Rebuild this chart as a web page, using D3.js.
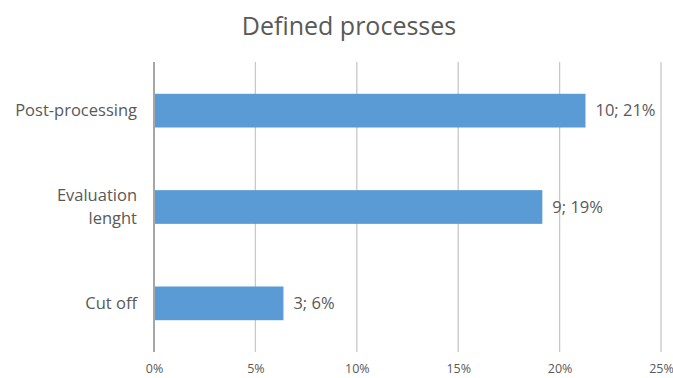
<!DOCTYPE html>
<html>
<head>
<meta charset="utf-8">
<script src="https://cdn.jsdelivr.net/npm/d3@7"></script>
<style>
  html, body { margin: 0; padding: 0; background: #fff; }
  svg { display: block; }
  text { font-family: "Open Sans", "Noto Sans", sans-serif; fill: #595959; }
</style>
</head>
<body>
<svg id="chart" width="673" height="378"></svg>
<script>
// Defined processes: count of occurrences and share of total (47)
const categories = ["Post-processing", "Evaluation lenght", "Cut off"];
const counts = [10, 9, 3];
const shares = [10 / 47, 9 / 47, 3 / 47];
const labels = ["10; 21%", "9; 19%", "3; 6%"];
const tickValues = [0, 0.05, 0.10, 0.15, 0.20, 0.25];

const svg = d3.select("#chart");
const margin = { top: 62, left: 154 };
const plotW = 507, plotH = 290;

const x = d3.scaleLinear().domain([0, 0.25]).range([0, plotW]);
const y = d3.scaleBand().domain(categories).range([0, plotH]).paddingInner(0.65).paddingOuter(0.33);

svg.append("text")
  .attr("x", 349).attr("y", 35)
  .attr("text-anchor", "middle")
  .style("font-size", "25px")
  .text("Defined processes");

const g = svg.append("g").attr("transform", `translate(${margin.left},${margin.top})`);

// vertical gridlines
g.selectAll("line.grid")
  .data(tickValues.slice(1))
  .join("line")
  .attr("class", "grid")
  .attr("x1", d => x(d)).attr("x2", d => x(d))
  .attr("y1", 0).attr("y2", plotH)
  .attr("stroke", "#c8c8c8").attr("stroke-width", 1.3);

// bars
g.selectAll("rect.bar")
  .data(categories)
  .join("rect")
  .attr("class", "bar")
  .attr("x", 0)
  .attr("y", d => y(d))
  .attr("width", (d, i) => x(shares[i]))
  .attr("height", y.bandwidth())
  .attr("fill", "#5B9BD5");

// category axis line at 0
g.append("line")
  .attr("x1", 0).attr("x2", 0)
  .attr("y1", 0).attr("y2", plotH)
  .attr("stroke", "#a6a6a6").attr("stroke-width", 2);

// value labels
g.selectAll("text.value")
  .data(categories)
  .join("text")
  .attr("class", "value")
  .attr("x", (d, i) => x(shares[i]) + 10)
  .attr("y", d => y(d) + y.bandwidth() / 2)
  .attr("dy", "0.35em")
  .style("font-size", "16.5px")
  .text((d, i) => labels[i]);

// category labels (wrapped where needed)
const catLines = { "Post-processing": ["Post-processing"], "Evaluation lenght": ["Evaluation", "lenght"], "Cut off": ["Cut off"] };
categories.forEach(c => {
  const lines = catLines[c];
  const cy = y(c) + y.bandwidth() / 2;
  const lh = 23;
  lines.forEach((ln, i) => {
    g.append("text")
      .attr("x", -17)
      .attr("y", cy + (i - (lines.length - 1) / 2) * lh)
      .attr("dy", "0.35em")
      .attr("text-anchor", "end")
      .style("font-size", "16.5px")
      .text(ln);
  });
});

// x axis tick labels
const xAxis = d3.axisBottom(x).tickValues(tickValues).tickFormat(d3.format(".0%")).tickSize(0).tickPadding(12);
const ax = g.append("g").attr("transform", `translate(0,${plotH})`).call(xAxis);
ax.select(".domain").remove();
ax.selectAll("text").style("font-size", "12.5px").attr("fill", "#595959").style("font-family", "\"Open Sans\", sans-serif");
</script>
</body>
</html>
